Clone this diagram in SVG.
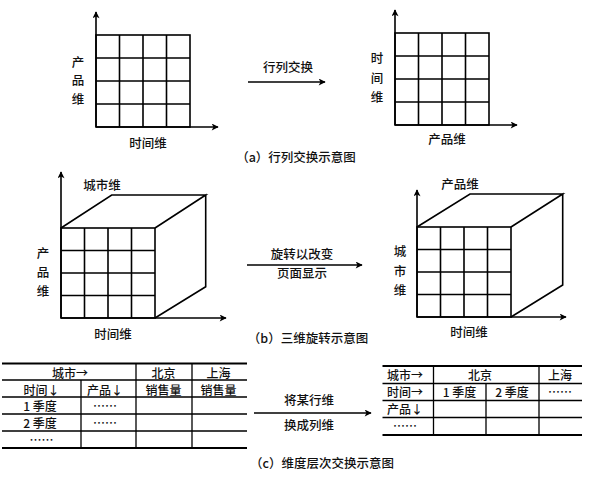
<svg xmlns="http://www.w3.org/2000/svg" width="603" height="477" viewBox="0 0 603 477">
<defs>
<marker id="ah" viewBox="0 0 10 10" refX="9" refY="5" markerWidth="9" markerHeight="7" markerUnits="userSpaceOnUse" orient="auto">
<path d="M0,0 L10,5 L0,10 L2.5,5 z" fill="#000"/>
</marker>
<style>
text{font-family:"Noto Sans CJK SC","Liberation Sans",sans-serif;fill:#111;text-anchor:middle;font-weight:500;}
.lb{font-size:12.5px;}
.cap{font-size:12.5px;}
.tb{font-size:12px;}
.g{fill:none;stroke:#000;stroke-width:1.6;}
.ax{fill:none;stroke:#000;stroke-width:1.6;marker-end:url(#ah);}
.tl{stroke:#000;stroke-width:1.3;fill:none;}
.to{stroke:#000;stroke-width:1.8;fill:none;}
</style>
</defs>

<!-- (a) left grid -->
<g id="gridA1">
<rect class="g" x="96" y="35" width="94" height="92"/>
<path class="g" d="M119.5,35V127M143,35V127M166.5,35V127M96,58H190M96,81H190M96,104H190"/>
<line class="ax" x1="96" y1="127" x2="96" y2="12"/>
<line class="ax" x1="96" y1="127" x2="218" y2="127"/>
<text class="lb" x="78" y="67">产</text>
<text class="lb" x="78" y="85">品</text>
<text class="lb" x="78" y="104">维</text>
<text class="lb" x="148" y="147.5">时间维</text>
</g>

<!-- (a) right grid -->
<g id="gridA2">
<rect class="g" x="395" y="33" width="94" height="92"/>
<path class="g" d="M418.5,33V125M442,33V125M465.5,33V125M395,56H489M395,79H489M395,102H489"/>
<line class="ax" x1="395" y1="125" x2="395" y2="10"/>
<line class="ax" x1="395" y1="125" x2="517" y2="125"/>
<text class="lb" x="377" y="62.5">时</text>
<text class="lb" x="377" y="82.5">间</text>
<text class="lb" x="377" y="101.5">维</text>
<text class="lb" x="447" y="143.5">产品维</text>
</g>

<!-- (b) left cube -->
<g id="cubeB1">
<path class="g" d="M61,228 L111.7,195 L205.7,195 L155,228 M155,228 L205.7,195 L205.7,286.7 L155,318"/>
<rect class="g" x="61" y="228" width="94" height="90"/>
<path class="g" d="M84.5,228V318M108,228V318M131.5,228V318M61,250.5H155M61,273H155M61,295.5H155"/>
<line class="ax" x1="61" y1="318" x2="61" y2="172"/>
<line class="ax" x1="61" y1="318" x2="226" y2="318"/>
<text class="lb" x="102" y="189.5">城市维</text>
<text class="lb" x="43" y="257.5">产</text>
<text class="lb" x="43" y="276.5">品</text>
<text class="lb" x="43" y="296">维</text>
<text class="lb" x="113" y="338.5">时间维</text>
</g>

<!-- (b) right cube -->
<g id="cubeB2">
<path class="g" d="M417,227 L470,194 L562.7,194 L511,227 M511,227 L562.7,194 L562.7,285 L511,317"/>
<rect class="g" x="417" y="227" width="94" height="90"/>
<path class="g" d="M440.5,227V317M464,227V317M487.5,227V317M417,249.5H511M417,272H511M417,294.5H511"/>
<line class="ax" x1="417" y1="317" x2="417" y2="190"/>
<line class="ax" x1="417" y1="317" x2="566" y2="317"/>
<text class="lb" x="460" y="188.5">产品维</text>
<text class="lb" x="400" y="256">城</text>
<text class="lb" x="400" y="276">市</text>
<text class="lb" x="400" y="294.5">维</text>
<text class="lb" x="469" y="337">时间维</text>
</g>

<!-- (c) left table -->
<g id="tableC1">
<path class="to" d="M2,363.5H247M2,448H247"/>
<path class="tl" d="M2,380H247M2,397H247M2,414H247M2,431H247M81,380V448M136,363.5V448M192,363.5V448"/>
<text class="tb" x="70" y="377.5">城市→</text>
<text class="tb" x="163.5" y="377.5">北京</text>
<text class="tb" x="218.5" y="377.5">上海</text>
<text class="tb" x="41.5" y="395">时间↓</text>
<text class="tb" x="105" y="395">产品↓</text>
<text class="tb" x="163.5" y="395">销售量</text>
<text class="tb" x="218.5" y="395">销售量</text>
<text class="tb" x="40" y="411">1 季度</text>
<text class="tb" x="105" y="411">……</text>
<text class="tb" x="40" y="427.5">2 季度</text>
<text class="tb" x="105" y="427.5">……</text>
<text class="tb" x="41.5" y="444.5">……</text>
</g>

<!-- (c) right table -->
<g id="tableC2">
<path class="to" d="M382.5,366H582M382.5,435H582"/>
<path class="tl" d="M382.5,383.5H582M382.5,400.5H582M382.5,417.5H582M433.5,366V435M486,383.5V435M539,366V435"/>
<text class="tb" x="405" y="379.5">城市→</text>
<text class="tb" x="480" y="379.5">北京</text>
<text class="tb" x="560" y="379.5">上海</text>
<text class="tb" x="405" y="396.5">时间→</text>
<text class="tb" x="459.5" y="396.5">1 季度</text>
<text class="tb" x="512" y="396.5">2 季度</text>
<text class="tb" x="560" y="396.5">……</text>
<text class="tb" x="405" y="414">产品↓</text>
<text class="tb" x="405" y="431">……</text>
</g>

<!-- connectors -->
<g id="connectors">
<line class="ax" x1="248" y1="82" x2="325" y2="82"/>
<line class="ax" x1="247" y1="265" x2="362" y2="265"/>
<line class="ax" x1="254" y1="413" x2="371" y2="413"/>
</g>

<g id="arrowLabels">
<text class="lb" x="288" y="71.5">行列交换</text>
<text class="lb" x="302" y="258.5">旋转以改变</text>
<text class="lb" x="302" y="277.5">页面显示</text>
<text class="lb" x="309" y="405">将某行维</text>
<text class="lb" x="309" y="429.5">换成列维</text>
</g>

<g id="captions">
<text class="cap" x="296" y="161.5">（a）行列交换示意图</text>
<text class="cap" x="308" y="343">（b）三维旋转示意图</text>
<text class="cap" x="322" y="467.5">（c）维度层次交换示意图</text>
</g>
</svg>
